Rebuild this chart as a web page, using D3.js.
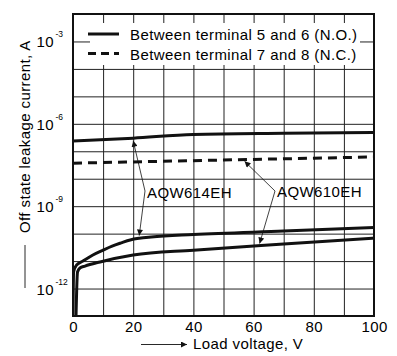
<!DOCTYPE html>
<html>
<head>
<meta charset="utf-8">
<script src="https://cdn.jsdelivr.net/npm/d3@7"></script>
<style>
  body { margin: 0; background: #fff; }
  text { font-family: "Liberation Sans", Arial, Helvetica, sans-serif; fill: #000; }
</style>
</head>
<body>
<svg id="chart" width="397" height="356"></svg>
<script>
// load voltage (V) vs off state leakage current (A)
const xTicks = [0, 20, 40, 60, 80, 100];
const xGrid = [0, 10, 20, 30, 40, 50, 60, 70, 80, 90, 100];
const yLabelExps = [-3, -6, -9, -12];
const yGridExps = [-2, -3, -4, -5, -6, -7, -8, -9, -10, -11, -12, -13];

// AQW614EH, between terminal 5 and 6 (N.O.), upper solid
const no614V = [0, 20, 40, 70, 100];
const no614I = [2.35e-7, 3.0e-7, 4.1e-7, 4.5e-7, 4.8e-7];
// AQW610EH, between terminal 7 and 8 (N.C.), dashed
const nc610V = [0, 50, 100];
const nc610I = [3.7e-8, 4.8e-8, 6.2e-8];
// AQW614EH, lower solid
const lo614V = [0, 0.2, 1.2, 3.3, 6.6, 10, 13, 16, 19, 22, 26, 40, 70, 100];
const lo614I = [1e-13, 4.0e-12, 7.2e-12, 1.0e-11, 1.66e-11, 2.5e-11, 3.5e-11, 4.6e-11, 5.9e-11, 6.8e-11, 7.6e-11, 9.3e-11, 1.24e-10, 1.66e-10];
// AQW610EH, lower solid
const lo610V = [1.0, 1.5, 2.3, 4, 9, 20, 40, 70, 100];
const lo610I = [1e-13, 4.0e-12, 5.6e-12, 6.6e-12, 9.3e-12, 1.66e-11, 2.5e-11, 4.2e-11, 6.9e-11];

const legendLabels = ["Between terminal 5 and 6 (N.O.)", "Between terminal 7 and 8 (N.C.)"];

const svg = d3.select("#chart");
const margin = {top: 14, right: 23, bottom: 40, left: 73},
    width = 397 - margin.left - margin.right,
    height = 356 - margin.top - margin.bottom;

const g = svg.append("g").attr("transform", "translate(" + margin.left + "," + margin.top + ")");

const x = d3.scaleLinear().domain([0, 100]).range([0, width]);
const y = d3.scaleLog().domain([1e-13, 1e-2]).range([height, 0]);

const fontCss = "15px";

// grid
g.append("g")
    .attr("transform", "translate(0," + height + ")")
    .call(d3.axisBottom(x).tickValues(xGrid).tickSize(-height).tickFormat(""))
    .call(a => a.select(".domain").remove())
    .call(a => a.selectAll("line").attr("stroke", "#222").attr("stroke-width", 1));

g.append("g")
    .call(d3.axisLeft(y).tickValues(yGridExps.map(e => Math.pow(10, e))).tickSize(-width).tickFormat(""))
    .call(a => a.select(".domain").remove())
    .call(a => a.selectAll("line").attr("stroke", "#222").attr("stroke-width", 1));

// x tick labels
g.append("g")
    .attr("transform", "translate(0," + height + ")")
    .call(d3.axisBottom(x).tickValues(xTicks).tickSize(0).tickPadding(5))
    .call(a => a.select(".domain").remove())
    .call(a => a.selectAll("text")
        .style("font-size", fontCss).style("letter-spacing", "0.4px")
        .attr("fill", "#000").attr("font-family", null));

// y tick labels with superscripts
const yl = g.append("g");
yLabelExps.forEach(e => {
    const yy = y(Math.pow(10, e));
    yl.append("text")
        .attr("x", -19).attr("y", yy + 6)
        .attr("text-anchor", "end")
        .style("font-size", fontCss).style("letter-spacing", "0.4px")
        .text("10");
    yl.append("text")
        .attr("x", -17.5).attr("y", yy - 4)
        .style("font-size", "8.5px")
        .text(String(e));
});

// legend box
const leg = g.append("g");
leg.append("rect")
    .attr("x", 17).attr("y", 9).attr("width", 270).attr("height", 42)
    .attr("fill", "#fff");
[0, 1].forEach(i => {
    const ly = 20 + i * 19.5;
    leg.append("line")
        .attr("x1", 15).attr("x2", 46).attr("y1", ly).attr("y2", ly)
        .attr("stroke", "#111").attr("stroke-width", 3)
        .attr("stroke-dasharray", i === 1 ? "8,5" : null);
    leg.append("text")
        .attr("x", 57).attr("y", ly + 6)
        .style("font-size", fontCss).style("letter-spacing", "0.4px")
        .text(legendLabels[i]);
});

// data lines
g.append("clipPath").attr("id", "clip")
    .append("rect").attr("width", width).attr("height", height);

const line = d3.line()
    .curve(d3.curveMonotoneX)
    .x(d => x(d[0]))
    .y(d => y(d[1]));

const series = [
    {v: no614V, i: no614I, dash: null},
    {v: nc610V, i: nc610I, dash: "9,6"},
    {v: lo614V, i: lo614I, dash: null},
    {v: lo610V, i: lo610I, dash: null}
];
const lines = g.append("g").attr("clip-path", "url(#clip)");
for (let s of series) {
    lines.append("path")
        .datum(d3.zip(s.v, s.i))
        .attr("fill", "none")
        .attr("stroke", "#111")
        .attr("stroke-width", 3)
        .attr("stroke-linejoin", "round")
        .attr("stroke-dasharray", s.dash)
        .attr("d", line);
}

// frame
g.append("rect")
    .attr("width", width).attr("height", height)
    .attr("fill", "none").attr("stroke", "#111").attr("stroke-width", 2);

// annotations
const defs = svg.append("defs");
defs.append("marker")
    .attr("id", "arrow").attr("viewBox", "0 0 10 10")
    .attr("refX", 10).attr("refY", 5)
    .attr("markerWidth", 7).attr("markerHeight", 6)
    .attr("markerUnits", "userSpaceOnUse")
    .attr("orient", "auto")
    .append("path").attr("d", "M0,0 L10,5 L0,10 z").attr("fill", "#111");

const notes = [
    {label: "AQW614EH", lx: 147 - margin.left, ly: 198 - margin.top, hub: [72, 177],
     targets: [[20, 2.85e-7], [22, 7.2e-11]]},
    {label: "AQW610EH", lx: 277 - margin.left, ly: 197 - margin.top, hub: [202, 177],
     targets: [[57, 5.1e-8], [62, 3.7e-11]]}
];
for (let n of notes) {
    for (let t of n.targets) {
        g.append("line")
            .attr("x1", n.hub[0]).attr("y1", n.hub[1])
            .attr("x2", x(t[0])).attr("y2", y(t[1]) + (t[1] > 1e-9 ? 2 : -2))
            .attr("stroke", "#111").attr("stroke-width", 0.8)
            .attr("marker-end", "url(#arrow)");
    }
    g.append("text")
        .attr("x", n.lx).attr("y", n.ly)
        .style("font-size", fontCss).style("letter-spacing", "0.4px")
        .text(n.label);
}

// axis titles
svg.append("text")
    .attr("x", 193).attr("y", 349)
    .style("font-size", fontCss).style("letter-spacing", "0.4px")
    .text("Load voltage, V");
svg.append("line")
    .attr("x1", 141).attr("x2", 187).attr("y1", 344.5).attr("y2", 344.5)
    .attr("stroke", "#111").attr("stroke-width", 0.9)
    .attr("marker-end", "url(#arrow)");

svg.append("text")
    .attr("transform", "translate(30,233) rotate(-90)")
    .style("font-size", fontCss).style("letter-spacing", "0.4px")
    .text("Off state leakage current, A");
svg.append("line")
    .attr("x1", 25).attr("x2", 25).attr("y1", 288).attr("y2", 245)
    .attr("stroke", "#111").attr("stroke-width", 0.9);
</script>
</body>
</html>
